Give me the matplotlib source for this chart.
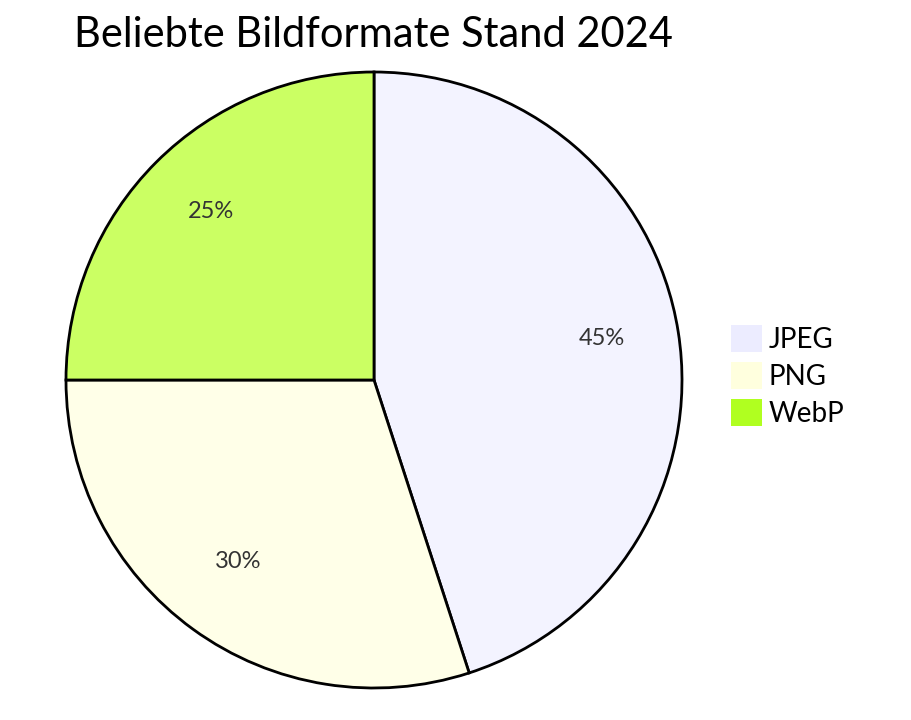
import matplotlib
matplotlib.use('Agg')
import matplotlib.pyplot as plt
from matplotlib.patches import Patch

# Data
labels = ['JPEG', 'PNG', 'WebP']
values = [45, 30, 25]
legend_colors = ['#ececff', '#ffffde', '#b0ff20']
slice_colors = ['#f3f3ff', '#ffffe8', '#cbff63']
title = 'Beliebte Bildformate Stand 2024'

plt.rcParams['font.family'] = ['Lato', 'DejaVu Sans']

fig = plt.figure(figsize=(9.11, 7.2), dpi=100)
ax = fig.add_axes([0, 0, 1, 1])

wedges, texts, autotexts = ax.pie(
    values, colors=slice_colors, startangle=90, counterclock=False,
    center=(374, 340), radius=308, autopct='%1.0f%%', pctdistance=0.75,
    wedgeprops=dict(edgecolor='black', linewidth=2),
    textprops=dict(color='#333333', fontsize=17), frame=True)
# percentage labels sit slightly higher in the original
for t in autotexts:
    x, y = t.get_position()
    t.set_position((x, y + 5))

ax.set_xlim(0, 911)
ax.set_ylim(0, 720)
ax.set_aspect('equal')
ax.axis('off')

ax.text(74, 673, title, fontsize=30, color='black', va='baseline', ha='left')

handles = [Patch(facecolor=c, edgecolor='none') for c in legend_colors]
ax.legend(handles, labels, loc='center left', bbox_to_anchor=(731, 344),
          bbox_transform=ax.transData, frameon=False, fontsize=20,
          handlelength=1.1, handleheight=1.1, handletextpad=0.25,
          labelspacing=0.33, borderpad=0, borderaxespad=0)

fig.savefig('out.png', dpi=100)
